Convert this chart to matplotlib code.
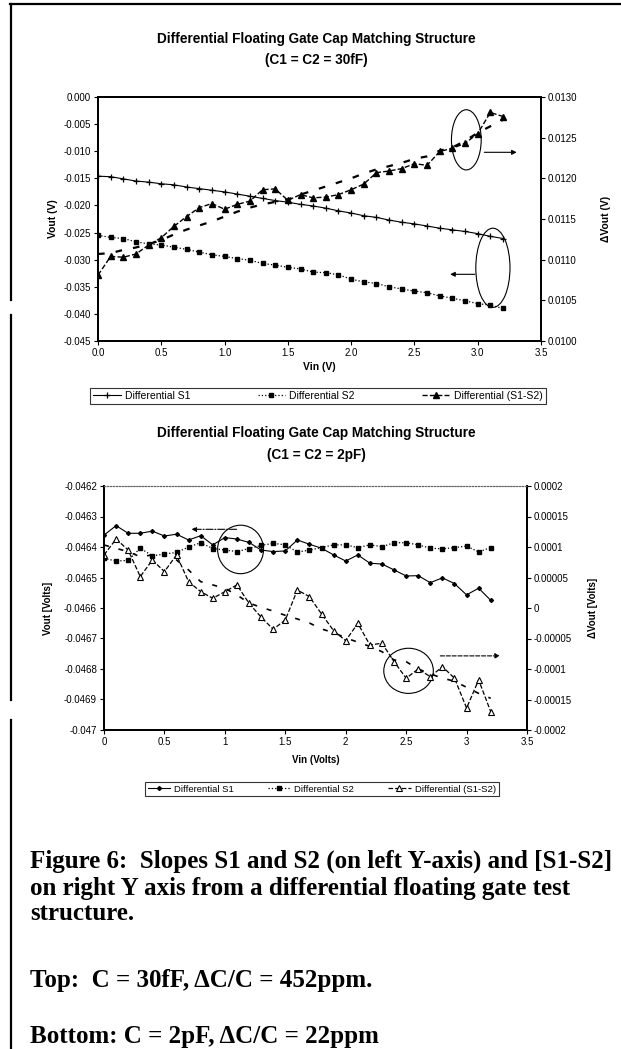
import matplotlib
matplotlib.use("Agg")
import matplotlib.pyplot as plt
from matplotlib.patches import Ellipse
from matplotlib.lines import Line2D
import numpy as np

plt.rcParams['font.family'] = ['Liberation Sans', 'DejaVu Sans']

# ---------------- data: top chart (C1 = C2 = 30fF) ----------------
vin = [round(0.1 * i, 1) for i in range(33)]

top_s1 = [-0.0146, -0.0147, -0.0151, -0.0155, -0.0157, -0.0160, -0.0162, -0.0166,
          -0.0169, -0.0172, -0.0175, -0.0179, -0.0183, -0.0187, -0.0191, -0.0194,
          -0.0198, -0.0201, -0.0205, -0.0210, -0.0214, -0.0219, -0.0222, -0.0227,
          -0.0231, -0.0234, -0.0238, -0.0242, -0.0245, -0.0248, -0.0252, -0.0257,
          -0.0261]
top_s2 = [-0.0255, -0.0259, -0.0261, -0.0267, -0.0271, -0.0273, -0.0277, -0.0281,
          -0.0286, -0.0291, -0.0294, -0.0298, -0.0301, -0.0307, -0.0310, -0.0314,
          -0.0317, -0.0323, -0.0324, -0.0328, -0.0336, -0.0341, -0.0344, -0.0350,
          -0.0354, -0.0358, -0.0361, -0.0367, -0.0371, -0.0376, -0.0381, -0.0384,
          -0.0390]
top_diff = [0.01081, 0.01104, 0.01103, 0.01107, 0.01118, 0.01127, 0.01141, 0.01153,
            0.01164, 0.01169, 0.01162, 0.01168, 0.01172, 0.01186, 0.01187, 0.01173,
            0.01180, 0.01176, 0.01177, 0.01180, 0.01186, 0.01193, 0.01207, 0.01209,
            0.01212, 0.01218, 0.01216, 0.01233, 0.01237, 0.01243, 0.01255, 0.01281,
            0.01276]
top_diff_b = [0.01107, 0.01108, 0.01112, 0.01115, 0.01119, 0.01124, 0.01131, 0.01137,
              0.01142, 0.01147, 0.01153, 0.01159, 0.01164, 0.01168, 0.01171, 0.01174,
              0.01180, 0.01185, 0.01190, 0.01195, 0.01200, 0.01206, 0.01211, 0.01215,
              0.01219, 0.01224, 0.01227, 0.01234, 0.01238, 0.01246, 0.01256, 0.01264,
              0.01272]

top_xticks = [0.0, 0.5, 1.0, 1.5, 2.0, 2.5, 3.0, 3.5]
top_xlabels = ["0.0", "0.5", "1.0", "1.5", "2.0", "2.5", "3.0", "3.5"]
top_lticks = [0.000, -0.005, -0.010, -0.015, -0.020, -0.025, -0.030, -0.035, -0.040, -0.045]
top_llabels = ["0.000", "-0.005", "-0.010", "-0.015", "-0.020", "-0.025", "-0.030",
               "-0.035", "-0.040", "-0.045"]
top_rticks = [0.0130, 0.0125, 0.0120, 0.0115, 0.0110, 0.0105, 0.0100]
top_rlabels = ["0.0130", "0.0125", "0.0120", "0.0115", "0.0110", "0.0105", "0.0100"]

# ---------------- data: bottom chart (C1 = C2 = 2pF) ----------------
bot_s1 = [-0.046361, -0.046330, -0.046355, -0.046355, -0.046348, -0.046364, -0.046358,
          -0.046377, -0.046363, -0.046393, -0.046369, -0.046374, -0.046385, -0.046410,
          -0.046415, -0.046413, -0.046377, -0.046391, -0.046404, -0.046426, -0.046446,
          -0.046426, -0.046453, -0.046456, -0.046475, -0.046495, -0.046494, -0.046517,
          -0.046501, -0.046520, -0.046557, -0.046535, -0.046575]
bot_s2 = [-0.046437, -0.046446, -0.046444, -0.046404, -0.046429, -0.046423, -0.046418,
          -0.046400, -0.046386, -0.046405, -0.046410, -0.046415, -0.046405, -0.046395,
          -0.046388, -0.046393, -0.046417, -0.046410, -0.046402, -0.046393, -0.046393,
          -0.046402, -0.046393, -0.046399, -0.046386, -0.046386, -0.046393, -0.046404,
          -0.046406, -0.046402, -0.046397, -0.046416, -0.046402]
bot_diff = [0.0000869, 0.0001131, 0.0000951, 0.0000514, 0.0000787, 0.0000596, 0.0000869,
            0.0000432, 0.0000268, 0.0000159, 0.0000268, 0.0000378, 0.0000077, -0.0000150,
            -0.0000349, -0.0000196, 0.0000295, 0.0000186, -0.0000098, -0.0000372,
            -0.0000536, -0.0000251, -0.0000606, -0.0000578, -0.0000879, -0.0001151,
            -0.0001000, -0.0001126, -0.0000962, -0.0001150, -0.0001640, -0.0001180,
            -0.0001700]
bot_diff_b = [0.0001033, 0.0000978, 0.0000923, 0.0000841, 0.0000869, 0.0000869, 0.0000787,
              0.0000623, 0.0000432, 0.0000378, 0.0000323, 0.0000213, 0.0000082, 0.0000010,
              -0.0000050, -0.0000120, -0.0000180, -0.0000246, -0.0000344, -0.0000404,
              -0.0000490, -0.0000560, -0.0000630, -0.0000716, -0.0000852, -0.0000880,
              -0.0001000, -0.0001080, -0.0001150, -0.0001200, -0.0001300, -0.0001400,
              -0.0001480]

bot_xticks = [0, 0.5, 1, 1.5, 2, 2.5, 3, 3.5]
bot_xlabels = ["0", "0.5", "1", "1.5", "2", "2.5", "3", "3.5"]
bot_lticks = [-0.0462, -0.0463, -0.0464, -0.0465, -0.0466, -0.0467, -0.0468, -0.0469, -0.0470]
bot_llabels = ["-0.0462", "-0.0463", "-0.0464", "-0.0465", "-0.0466", "-0.0467", "-0.0468",
               "-0.0469", "-0.047"]
bot_rticks = [0.0002, 0.00015, 0.0001, 0.00005, 0, -0.00005, -0.0001, -0.00015, -0.0002]
bot_rlabels = ["0.0002", "0.00015", "0.0001", "0.00005", "0", "-0.00005", "-0.0001",
               "-0.00015", "-0.0002"]

legend_names = ["Differential S1", "Differential S2", "Differential (S1-S2)"]

W, H = 621, 1049
fig = plt.figure(figsize=(W / 100, H / 100), dpi=100)
fs_tick = 7


def px(x0, y0, x1, y1):
    # axes rect from a pixel box
    return [x0 / W, 1 - y1 / H, (x1 - x0) / W, (y1 - y0) / H]


def style_axis(a):
    a.tick_params(axis='both', labelsize=fs_tick, length=3, width=0.8, direction='out', pad=2)
    for s in a.spines.values():
        s.set_linewidth(1.3)


# ================= top chart =================
ax1 = fig.add_axes(px(98, 97, 541, 341))
ax1b = ax1.twinx()

l1, = ax1.plot(vin, top_s1, color='black', lw=0.8, marker='+', ms=4, mew=0.9)
l2, = ax1.plot(vin, top_s2, color='black', lw=0.9, ls=':', marker='s', ms=2.6)
ax1b.plot(vin, top_diff_b, color='black', lw=1.6, ls=(0, (3, 5)))
l3, = ax1b.plot(vin, top_diff, color='black', lw=1.0, ls='--', marker='^', ms=3.8)

ax1.set_xlim(0, 3.5)
ax1.set_ylim(-0.045, 0.0)
ax1b.set_ylim(0.0100, 0.0130)
ax1.set_xticks(top_xticks)
ax1.set_xticklabels(top_xlabels)
ax1.set_yticks(top_lticks)
ax1.set_yticklabels(top_llabels)
ax1b.set_yticks(top_rticks)
ax1b.set_yticklabels(top_rlabels)
style_axis(ax1)
style_axis(ax1b)
ax1.set_xlabel("Vin (V)", fontsize=7.5, fontweight='bold', labelpad=3)
ax1.set_ylabel("Vout (V)", fontsize=7.5, fontweight='bold')
ax1.yaxis.set_label_coords(-0.09, 0.5)
ax1b.set_ylabel("\u0394Vout (V)", fontsize=7.5, fontweight='bold', rotation=90)
ax1b.yaxis.set_label_coords(1.135, 0.5)

ax1.add_patch(Ellipse((2.91, -0.0079), 0.235, 0.0111, fill=False, ec='black', lw=0.8, zorder=5))
ax1.add_patch(Ellipse((3.12, -0.0315), 0.27, 0.0146, fill=False, ec='black', lw=0.8, zorder=5))
ax1.annotate("", xy=(3.33, -0.0102), xytext=(3.03, -0.0102),
             arrowprops=dict(arrowstyle='-|>', color='black', lw=0.8, mutation_scale=7))
ax1.annotate("", xy=(2.76, -0.0327), xytext=(3.0, -0.0327),
             arrowprops=dict(arrowstyle='-|>', color='black', lw=0.8, mutation_scale=7))

fig.text(0.51, 1 - 39 / H, "Differential Floating Gate Cap Matching Structure",
         ha='center', va='center', fontsize=9.8, fontweight='bold')
fig.text(0.51, 1 - 60 / H, "(C1 = C2 = 30fF)", ha='center', va='center',
         fontsize=9.8, fontweight='bold')

leg1 = fig.legend([l1, l2, l3], legend_names, loc='center', bbox_to_anchor=(0.512, 1 - 396 / H),
                  ncol=3, fontsize=7.5, frameon=True, fancybox=False, edgecolor='black',
                  handlelength=2.6, columnspacing=6.5, borderpad=0.3, handletextpad=0.4)
leg1.get_frame().set_linewidth(0.8)

# ================= bottom chart =================
ax2 = fig.add_axes(px(104, 486, 527, 730))
ax2b = ax2.twinx()

m1, = ax2.plot(vin, bot_s1, color='black', lw=0.8, marker='D', ms=2.0)
m2, = ax2.plot(vin, bot_s2, color='black', lw=0.9, ls=':', marker='s', ms=2.6)
ax2b.plot(vin, bot_diff_b, color='black', lw=1.2, ls=(0, (3, 6)))
m3, = ax2b.plot(vin, bot_diff, color='black', lw=0.9, ls='--', marker='^', ms=4,
                mfc='white', mew=0.8)

ax2.set_xlim(0, 3.5)
ax2.set_ylim(-0.0470, -0.0462)
ax2b.set_ylim(-0.0002, 0.0002)
ax2.set_xticks(bot_xticks)
ax2.set_xticklabels(bot_xlabels)
ax2.set_yticks(bot_lticks)
ax2.set_yticklabels(bot_llabels)
ax2b.set_yticks(bot_rticks)
ax2b.set_yticklabels(bot_rlabels)
style_axis(ax2)
style_axis(ax2b)
for a in (ax2, ax2b):
    a.spines['top'].set_linestyle(':')
    a.spines['top'].set_linewidth(0.8)
    a.spines['top'].set_color('#666666')
ax2.set_xlabel("Vin (Volts)", fontsize=7, fontweight='bold', labelpad=6)
ax2.set_ylabel("Vout [Volts]", fontsize=7, fontweight='bold')
ax2.yaxis.set_label_coords(-0.12, 0.5)
ax2b.set_ylabel("\u0394Vout [Volts]", fontsize=7, fontweight='bold')
ax2b.yaxis.set_label_coords(1.145, 0.5)

ax2.add_patch(Ellipse((1.13, -0.046408), 0.38, 0.000159, fill=False, ec='black', lw=0.8, zorder=5))
ax2.add_patch(Ellipse((2.52, -0.046806), 0.41, 0.000148, fill=False, ec='black', lw=0.8, zorder=5))
ax2.annotate("", xy=(0.70, -0.046342), xytext=(1.12, -0.046342),
             arrowprops=dict(arrowstyle='-|>', color='black', lw=0.8, ls='-.', mutation_scale=7))
ax2.annotate("", xy=(3.30, -0.046757), xytext=(2.76, -0.046757),
             arrowprops=dict(arrowstyle='-|>', color='black', lw=0.8, ls='--', mutation_scale=7))

fig.text(0.51, 1 - 433 / H, "Differential Floating Gate Cap Matching Structure",
         ha='center', va='center', fontsize=9.8, fontweight='bold')
fig.text(0.51, 1 - 455 / H, "(C1 = C2 = 2pF)", ha='center', va='center',
         fontsize=9.8, fontweight='bold')

leg2 = fig.legend([m1, m2, m3], legend_names, loc='center', bbox_to_anchor=(0.518, 1 - 789 / H),
                  ncol=3, fontsize=6.8, frameon=True, fancybox=False, edgecolor='black',
                  handlelength=2.4, columnspacing=3.6, borderpad=0.3, handletextpad=0.4)
leg2.get_frame().set_linewidth(0.8)

# ================= caption =================
cap = dict(fontsize=18, fontweight='bold', family=['Liberation Serif', 'DejaVu Serif'],
           ha='left', va='center')
fig.text(30 / W, 1 - 861 / H, "Figure 6:  Slopes S1 and S2 (on left Y-axis) and [S1-S2]", **cap)
fig.text(30 / W, 1 - 888 / H, "on right Y axis from a differential floating gate test", **cap)
fig.text(30 / W, 1 - 914 / H, "structure.", **cap)
fig.text(30 / W, 1 - 980 / H, "Top:  C = 30fF, \u0394C/C = 452ppm.", **cap)
fig.text(30 / W, 1 - 1036 / H, "Bottom: C = 2pF, \u0394C/C = 22ppm", **cap)

# page border remnants from the scan
fig.add_artist(Line2D([10 / W, 1.0], [1 - 4 / H, 1 - 4 / H], color='black', lw=1.6))
for y0, y1 in [(4, 300), (315, 700), (720, 1049)]:
    fig.add_artist(Line2D([11 / W, 11 / W], [1 - y0 / H, 1 - y1 / H], color='black', lw=1.6))

fig.savefig("out.png", dpi=100)
